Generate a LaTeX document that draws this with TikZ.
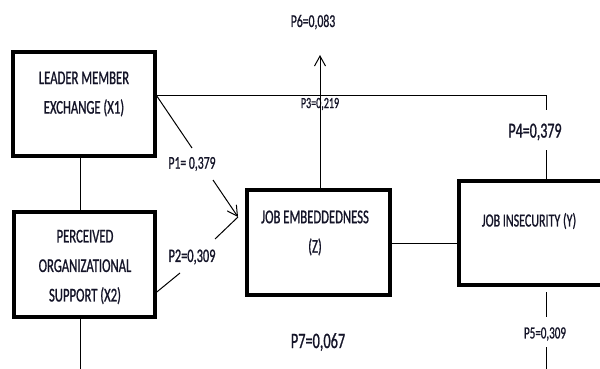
\documentclass[tikz,border=0pt]{standalone}
\usepackage{fontspec}
\setmainfont{Carlito}[FakeStretch=0.65,FakeBold=0.9]
\usetikzlibrary{arrows.meta}
\definecolor{txt}{HTML}{141428}
\begin{document}
\begin{tikzpicture}[x=1pt,y=-1pt,
  box/.style={draw=black,line width=3.6pt,inner sep=0pt},
  btxt/.style={text=txt,align=center,inner sep=0pt,font=\fontsize{19.5}{29.5}\selectfont},
  lab/.style={text=txt,inner sep=0pt,font=\fontsize{#1}{#1}\selectfont},
  ln/.style={draw=black,line width=1pt},
  arr/.style={ln,-{Straight Barb[length=10pt,width=11pt,line width=1pt]}}]
\useasboundingbox (0,0) rectangle (600,369);
% boxes
\node[box,minimum width=142pt,minimum height=104pt] (x1) at (84,104) {};
\node[box,minimum width=141pt,minimum height=105pt] (x2) at (84.5,264.5) {};
\node[box,minimum width=143pt,minimum height=105pt] (z) at (318.5,242.5) {};
\node[box,minimum width=165pt,minimum height=104pt] (y) at (541.5,233) {};
% box texts
\node[btxt] (x1t) at (84,94) {LEADER MEMBER\\EXCHANGE (X1)};
\node[btxt] (x2t) at (85,267) {PERCEIVED\\ORGANIZATIONAL\\SUPPORT (X2)};
\node[btxt] (zt) at (315,233) {JOB EMBEDDEDNESS\\(Z)};
\node[btxt,font=\fontsize{18.5}{22}\selectfont] (yt) at (529,221) {JOB INSECURITY (Y)};
% labels
\node[lab=18] (p6) at (313,22) {P6=0,083};
\node[lab=15.5] (p3) at (320,104) {P3=0,219};
\node[lab=21.5] (p4) at (535,132) {P4=0,379};
\node[lab=18] (p1) at (192,164) {P1= 0,379};
\node[lab=19] (p2) at (192,257) {P2=0,309};
\node[lab=17] (p5) at (545,334) {P5=0,309};
\node[lab=22] (p7) at (318,342) {P7=0,067};
% coordinates
\coordinate (c80) at (80,0);
\coordinate (c320) at (320,0);
\coordinate (h96) at (0,96);
\coordinate (h292) at (0,292);
\coordinate (h243) at (0,243);
\coordinate (e1) at (80,372);
\coordinate (k1) at (546,96);
\coordinate (k2) at (546,110);
\coordinate (k3) at (546,150);
\coordinate (k4) at (546,292);
\coordinate (k5) at (546,317);
\coordinate (k6) at (546,347);
\coordinate (k7) at (546,372);
\coordinate (tip) at (238,217);
\coordinate (g1a) at (192,148);
\coordinate (g1b) at (213,180);
\coordinate (g2a) at (180,273);
\coordinate (g2b) at (215,239);
\coordinate (p6tip) at (320,55);
% connectors
\draw[ln] (x1.south -| c80) -- (x2.north -| c80);
\draw[ln] (x2.south -| c80) -- (e1);
\draw[ln] (x1.east |- h96) -- (k1) -- (k2);
\draw[ln] (k3) -- (y.north -| k1);
\draw[ln] (x1.east |- h96) -- (g1a);
\draw[arr] (g1b) -- (tip);
\draw[ln] (x2.east |- h292) -- (g2a);
\draw[ln] (g2b) -- (tip);
\draw[arr] (z.north -| c320) -- (p6tip);
\draw[ln] (z.east |- h243) -- (y.west |- h243);
\draw[ln] (k4) -- (k5);
\draw[ln] (k6) -- (k7);
\end{tikzpicture}
\end{document}
